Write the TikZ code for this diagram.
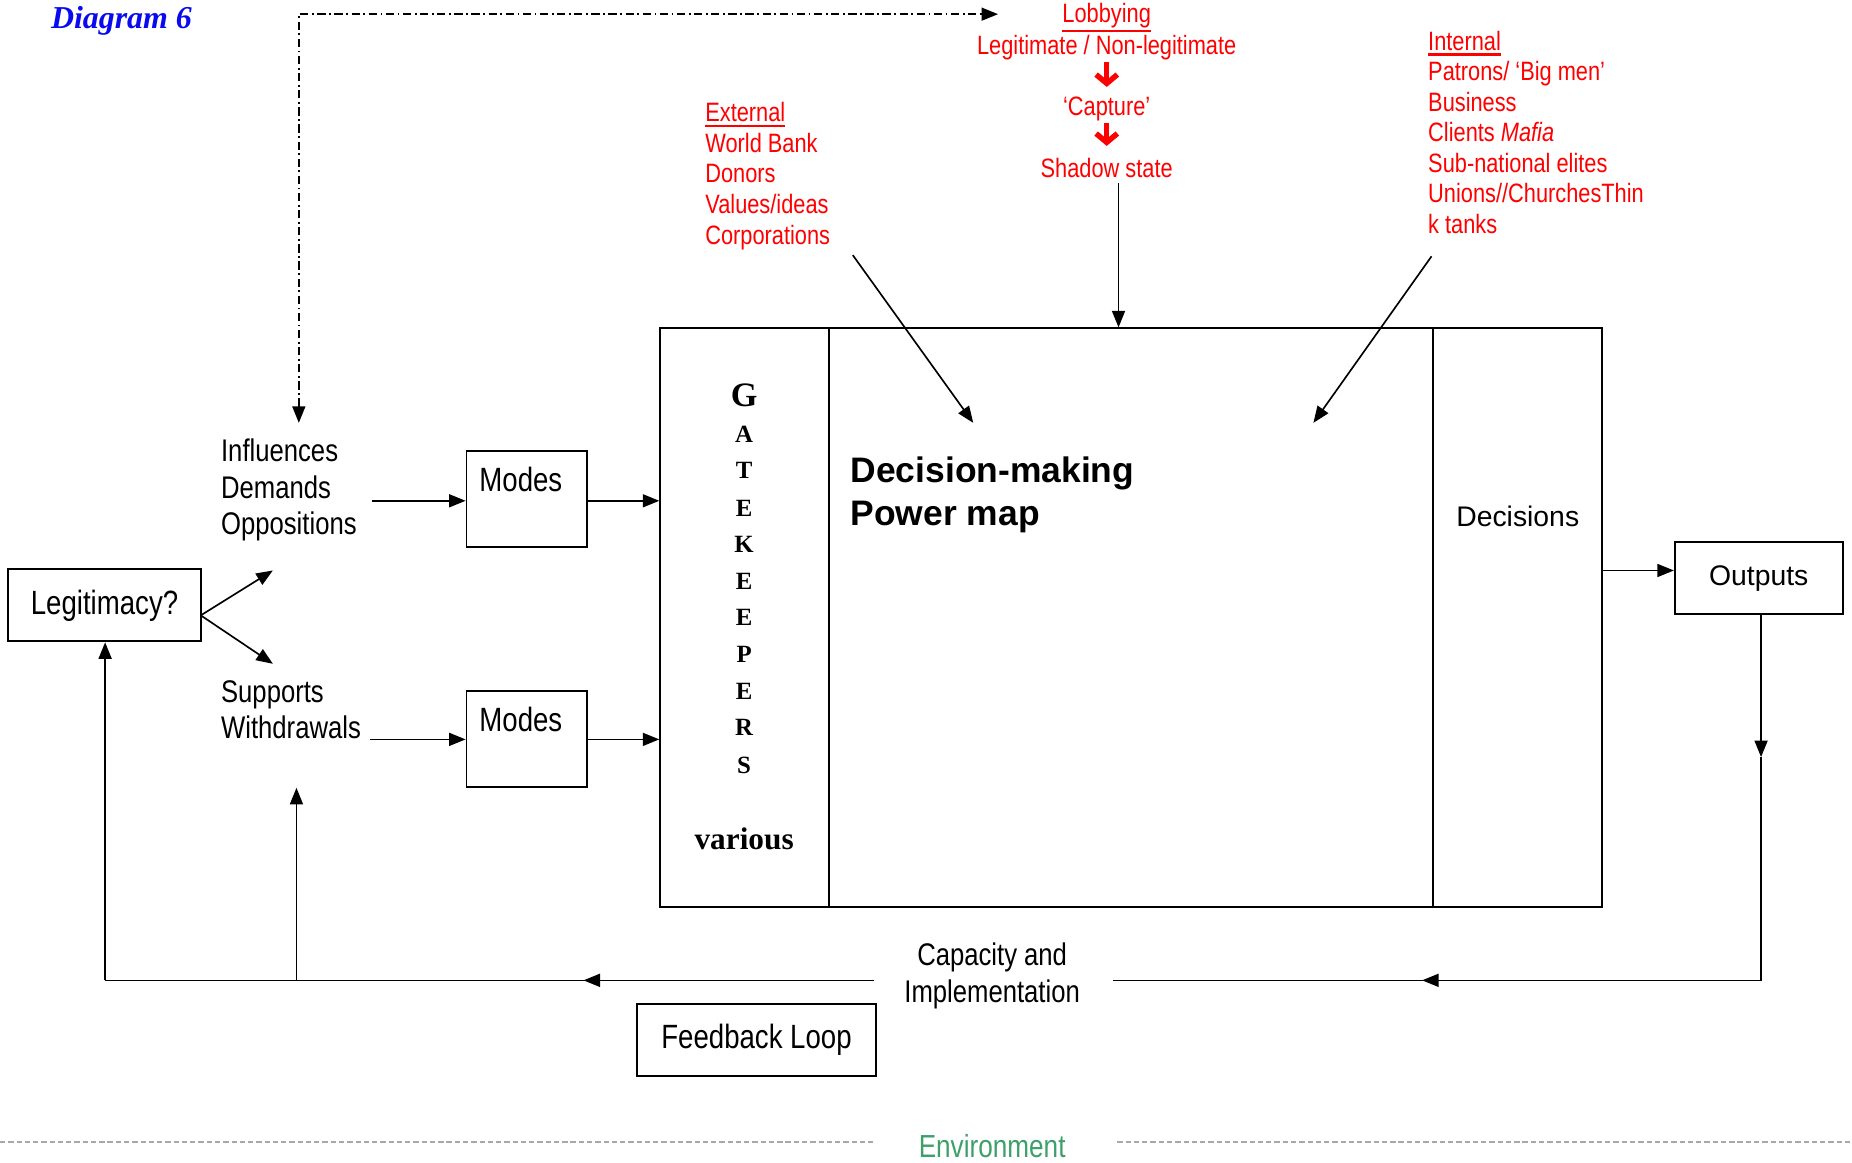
\documentclass[tikz,border=0pt]{standalone}
\usepackage{fontspec}
\setmainfont{Liberation Serif}
\newfontfamily\nar[FakeStretch=0.82]{Liberation Sans}
\newfontfamily\ari{Liberation Sans}
\usetikzlibrary{arrows.meta,calc}
\definecolor{envgreen}{HTML}{3DA06A}
\definecolor{dgray}{HTML}{A8A8A8}
\definecolor{dblue}{HTML}{0A0AF0}
\newcommand\myul[2][2.5pt]{\leavevmode\vtop{\hbox{#2}\kern#1\hrule height 2pt}}
\begin{document}
\begin{tikzpicture}[x=1pt,y=-1pt,
  box/.style={draw, line width=1.6pt, inner sep=0pt},
  con/.style={line width=1.4pt},
  tip/.style={-{Triangle[length=14pt,width=11pt]}},
  arr/.style={con, tip},
  nt/.style={inner sep=0pt, font=\nar\fontsize{26.5}{31}\selectfont, align=left},
  bt/.style={inner sep=0pt, font=\nar\fontsize{28.5}{32}\selectfont},
  arialt/.style={inner sep=0pt, font=\ari\fontsize{24}{28}\selectfont},
  rt/.style={inner sep=0pt, text=red, font=\nar\fontsize{22.5}{25.9}\selectfont, align=left},
  redarr/.style={red, line width=4.6pt, -{Straight Barb[length=7.5pt,width=18pt,line width=4.6pt]}},
  gk/.style={inner sep=0pt, font=\bfseries\fontsize{21}{21}\selectfont},
  dd/.style={con, dash pattern=on 7pt off 3pt on 1.5pt off 3pt},
  envline/.style={dgray, line width=1.8pt, dash pattern=on 4.5pt off 2.5pt},
]
\useasboundingbox (0,0) rectangle (1568,984);

% title
\node[inner sep=0pt, anchor=west, text=dblue, font=\bfseries\itshape\fontsize{27}{30}\selectfont] (title) at (43,18) {Diagram 6};

% lobbying column
\node[rt] (lob) at (937,15) {\myul[1pt]{Lobbying}};
\node[rt] (leg) at (937,40) {Legitimate / Non-legitimate};
\node[rt] (cap) at (937,92) {‘Capture’};
\node[rt] (sha) at (937,142) {Shadow state};
\draw[redarr] ($(leg.south)+(0,2)$) -- ($(cap.north)+(0,-8)$);
\draw[redarr] ($(cap.south)+(0,2)$) -- ($(sha.north)+(0,-10)$);

% external / internal
\node[rt, anchor=west] (ext) at (597,149) {\myul{External}\\World Bank\\Donors\\Values/ideas\\Corporations};
\node[rt, anchor=west] (int) at (1209,112) {\myul{Internal}\\Patrons/ ‘Big men’\\Business\\Clients {\itshape Mafia}\\Sub-national elites\\Unions//ChurchesThin\\k tanks};

% main box
\node[box, minimum width=143pt, minimum height=490pt] (gate) at (630.5,523) {};
\node[box, minimum width=511pt, minimum height=490pt] (dm) at (957.5,523) {};
\node[box, minimum width=143pt, minimum height=490pt] (dec) at (1284.5,523) {};

% gatekeepers
\node[inner sep=0pt, font=\bfseries\fontsize{29}{29}\selectfont] (gG) at (630,335) {G};
\foreach \l/\yy [count=\i] in {A/368,T/398,E/430,K/461,E/492,E/523,P/554,E/585,R/616,S/648}
  \node[gk] (g\i) at (630,\yy) {\l};
\node[inner sep=0pt, font=\bfseries\fontsize{26.5}{30}\selectfont] (various) at (630,710) {various};

\node[inner sep=0pt, anchor=west, align=left, font=\ari\bfseries\fontsize{30}{36}\selectfont] (dmt) at (720,419) {Decision-making\\Power map};
\node[arialt] (dect) at (1285,437) {Decisions};

% outputs
\node[box, arialt, minimum width=142pt, minimum height=61pt] (out) at (1489,489.5) {Outputs};

% left side
\node[box, bt, minimum width=163pt, minimum height=61pt] (legit) at (88.5,512.5) {Legitimacy?};
\node[nt, anchor=west] (inf) at (187,415) {Influences\\Demands\\Oppositions};
\node[nt, anchor=west] (sup) at (187,601) {Supports\\Withdrawals};
\node[box, minimum width=102pt, minimum height=81pt] (mode1) at (446,422.5) {};
\node[bt] (mode1t) at (441,406) {Modes};
\node[box, minimum width=102pt, minimum height=81pt] (mode2) at (446,625.5) {};
\node[bt] (mode2t) at (441,609) {Modes};

% bottom
\node[nt, align=center] (capimp) at (840,826) {Capacity and\\Implementation};
\node[box, bt, minimum width=203pt, minimum height=61pt] (fb) at (640.5,880.5) {Feedback Loop};
\node[inner sep=0pt, text=envgreen, font=\nar\fontsize{27}{30}\selectfont] (env) at (840,970.5) {Environment};

% coordinates
\coordinate (dtop) at (253,358);
\coordinate (dcorner) at (253,12);
\coordinate (dlob) at (845,12);
\coordinate (exs) at (722,216);
\coordinate (exe) at (824,358);
\coordinate (ins) at (1212,217);
\coordinate (ine) at (1112,358);
\coordinate (shs) at (947,155);
\coordinate (lp) at (170,521);
\coordinate (ia) at (231,483);
\coordinate (sa) at (231,562);
\coordinate (i1) at (315,424);
\coordinate (s1) at (313,626);
\coordinate (o1) at (1356,483);
\coordinate (m1) at (1491,641);
\coordinate (br) at (1491,830);
\coordinate (capR) at (942,830);
\coordinate (m2) at (1204,830);
\coordinate (capL) at (740,830);
\coordinate (m3) at (494,830);
\coordinate (bl) at (89,830);
\coordinate (bm) at (251,830);
\coordinate (m4) at (251,667);
\coordinate (e1) at (0,967);
\coordinate (e2) at (740,967);
\coordinate (e3) at (946,967);
\coordinate (e4) at (1568,967);

% connectors
\draw[dd, {Triangle[length=14pt,width=11pt]}-{Triangle[length=14pt,width=11pt]}] (dtop) -- (dcorner) -- (dlob);
\draw[arr] (exs) -- (exe);
\draw[arr] (ins) -- (ine);
\draw[arr] (shs) -- (shs |- dm.north);
\draw[arr] (lp) -- (ia);
\draw[arr] (lp) -- (sa);
\draw[arr] (i1) -- (i1 -| mode1.west);
\draw[arr] (s1) -- (s1 -| mode2.west);
\draw[arr] (mode1.east |- i1) -- (i1 -| gate.west);
\draw[arr] (mode2.east |- s1) -- (s1 -| gate.west);
\draw[arr] (o1) -- (o1 -| out.west);
\draw[arr] (out.south -| m1) -- (m1);
\draw[con] (m1) -- (br) -- (capR);
\draw[arr] (br) -- (m2);
\draw[con] (capL) -- (bl);
\draw[arr] (capL) -- (m3);
\draw[arr] (bl) -- (legit.south -| bl);
\draw[arr] (bm) -- (m4);
\draw[envline] (e1) -- (e2);
\draw[envline] (e3) -- (e4);
\end{tikzpicture}
\end{document}
